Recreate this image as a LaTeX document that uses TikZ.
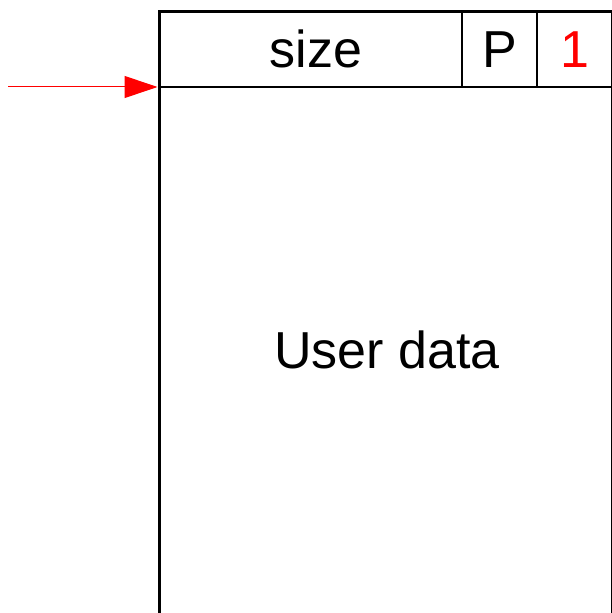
\documentclass[tikz,border=0pt]{standalone}
\usepackage{fontspec}
\setmainfont{Liberation Sans}
\usetikzlibrary{arrows.meta}
\tikzset{
  lbl/.style={anchor=base, inner sep=0pt, font=\fontsize{52bp}{60bp}\selectfont},
  frame/.style={line width=3bp, line join=miter},
  thin/.style={line width=1.2bp},
  ptr/.style={red, line width=1bp, -{Triangle[length=33bp,width=22bp]}}
}
\begin{document}
\begin{tikzpicture}[x=1bp,y=-1bp]
\useasboundingbox (0,0) rectangle (612,613);
\clip (0,0) rectangle (612,613);
% header lines
\draw[thin] (159,87) -- (612,87);
\draw[thin] (462,11.5) -- (462,87);
\draw[thin] (537,11.5) -- (537,87);
% chunk frame
\draw[frame] (159,640) -- (159,11.5) -- (612,11.5) -- (612,640);
% labels
\node[lbl] (sizelbl) at (316,68) {size};
\node[lbl] (plbl) at (499.5,68) {P};
\node[lbl, text=red] (bitlbl) at (574.5,68) {1};
\node[lbl] (user) at (387,368) {User data};
% pointer
\coordinate (src) at (8,87);
\coordinate (entry) at (157.5,87);
\draw[ptr] (src) -- (entry);
\end{tikzpicture}
\end{document}
